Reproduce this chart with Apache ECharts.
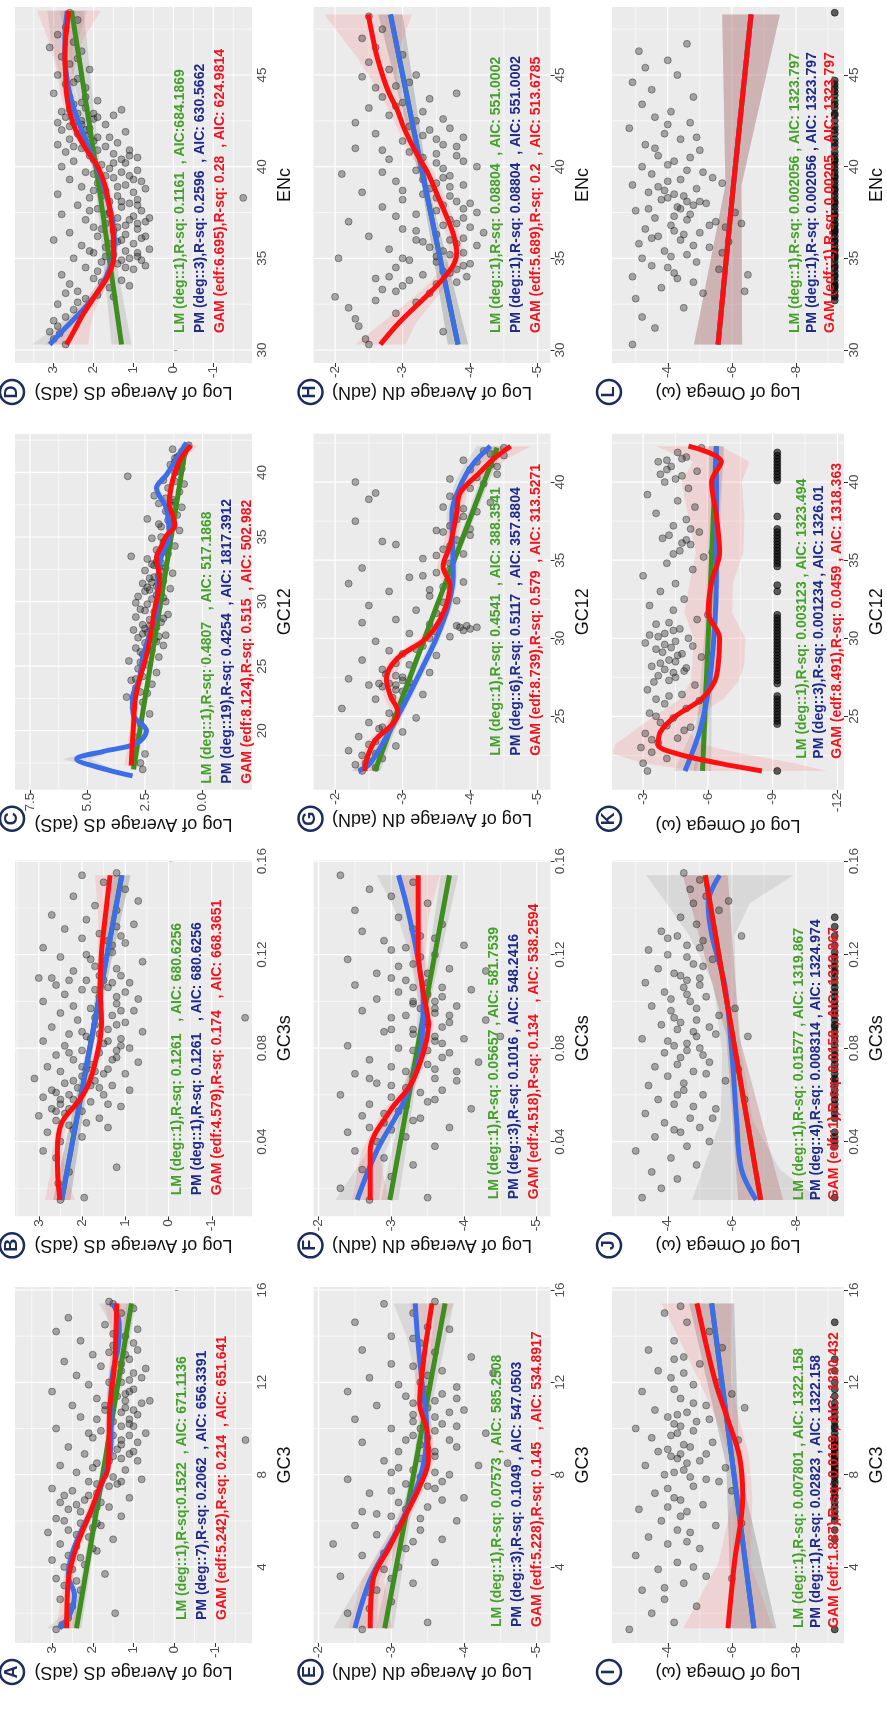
<!DOCTYPE html>
<html>
<head>
<meta charset="utf-8">
<script src="https://cdn.jsdelivr.net/npm/echarts@6/dist/echarts.min.js"></script>
<style>
html, body { margin: 0; padding: 0; background: #fff; }
#main { width: 887px; height: 1713px; }
</style>
</head>
<body>
<div id="main"></div>
<script>
// ---- axis ticks / ranges ----
var adsTicks = [-1, 0, 1, 2, 3], adsMinor = [-1.5, -0.5, 0.5, 1.5, 2.5, 3.5];
var cTicks = [0, 2.5, 5, 7.5], cMinor = [-1.25, 1.25, 3.75, 6.25];
var adnTicks = [-5, -4, -3, -2], adnMinor = [-4.5, -3.5, -2.5];
var omegaTicks = [-8, -6, -4], omegaMinor = [-9, -7, -5, -3];
var kTicks = [-12, -9, -6, -3], kMinor = [-10.5, -7.5, -4.5];
var encTicks = [30, 35, 40, 45], encMinor = [32.5, 37.5, 42.5, 47.5];
var gc12cTicks = [20, 25, 30, 35, 40], gc12cMinor = [17.5, 22.5, 27.5, 32.5, 37.5, 42.5];
var gc12Ticks = [25, 30, 35, 40], gc12Minor = [22.5, 27.5, 32.5, 37.5, 42.5];
var gc3sTicks = [0.04, 0.08, 0.12, 0.16], gc3sMinor = [0.02, 0.06, 0.10, 0.14];
var gc3Ticks = [4, 8, 12, 16], gc3Minor = [2, 6, 10, 14];

var encRange = [29.29, 48.71], gc12cRange = [15.43, 43.0], gc12Range = [20.3, 43.1];
var gc3sRange = [0.008, 0.1604], gc3Range = [0.71, 16.13];

var adsTitle = 'Log of Average dS (adS)', adnTitle = 'Log of Average dN (adN)', omegaTitle = 'Log of Omega (\u03c9)';
var omegaFloor = -9.21;

// ---- panel D : ENc vs adS ----
var dPts = [[30.3,2.7],[30.6,3.0],[31.0,3.1],[31.3,2.9],[31.6,3.0],[30.9,2.85],[31.8,2.7],[32.2,2.5],[32.5,2.9],[32.8,2.2],[33.0,1.9],[33.2,2.4],[33.4,1.6],[33.6,2.6],[33.8,1.3],[33.9,2.0],[32.9,1.5],[33.5,1.1],
 [34.1,2.8],[34.2,1.6],[34.4,1.0],[34.5,2.2],[34.6,0.7],[34.8,1.8],[34.9,1.3],[35.0,2.5],[35.1,0.9],[35.2,1.5],[35.3,2.0],[35.4,1.2],[35.5,0.6],[35.6,1.7],[35.7,2.3],[35.8,1.0],[35.9,1.4],[36.0,3.0],[36.1,0.8],[36.2,1.9],[35.0,1.1],[34.7,1.4],[35.3,0.9],[36.3,1.2],
 [36.4,2.6],[36.5,1.5],[36.6,0.9],[36.7,2.0],[36.8,1.2],[36.9,1.7],[37.0,0.7],[37.1,2.2],[37.2,1.4],[37.3,1.0],[37.4,2.8],[37.5,1.6],[37.6,0.8],[37.7,1.9],[37.8,1.3],[37.9,2.4],[38.0,1.1],[37.2,0.6],[36.6,1.8],[38.1,1.6],
 [38.2,0.9],[38.3,2.1],[38.4,1.4],[38.5,2.9],[38.6,1.0],[38.7,1.7],[38.8,0.7],[38.9,2.3],[39.0,1.2],[39.1,1.9],[39.2,0.8],[39.3,2.6],[39.4,1.5],[39.5,1.1],[39.6,2.0],[39.8,0.9],[39.9,1.6],[38.3,-1.75],[40.0,2.8],[39.7,1.3],
 [40.1,1.8],[40.2,1.2],[40.3,2.5],[40.5,0.9],[40.6,2.1],[40.7,1.5],[40.8,2.7],[40.9,1.1],[41.0,2.3],[41.1,1.7],[41.2,2.9],[41.3,1.4],[41.4,2.0],[41.5,2.6],[41.6,1.9],[41.8,2.4],[41.9,1.2],[42.0,2.8],[40.4,2.0],[41.7,2.2],
 [42.1,2.1],[42.2,2.6],[42.3,1.7],[42.4,2.9],[42.5,2.3],[42.6,2.0],[42.7,2.7],[42.8,1.5],[42.9,2.4],[43.0,2.8],[43.2,2.2],[43.4,2.5],[43.6,1.9],[43.8,2.6],[44.0,3.0],[43.1,1.3],[42.9,2.0],
 [44.3,2.2],[44.5,2.7],[44.8,2.4],[45.0,2.9],[45.3,2.1],[45.6,2.6],[46.0,2.8],[46.3,2.3],[46.8,2.5],[47.2,2.9],[47.6,2.7],[48.0,2.4],[48.4,2.6],[46.5,3.1],
 [34.3,1.9],[34.9,0.8],[35.4,2.1],[35.8,1.6],[36.2,0.7],[36.7,1.4],[37.1,1.1],[37.6,2.1],[37.9,0.9],[38.4,1.8],[38.9,1.4],[39.3,1.0],[39.7,2.2],[40.2,1.5],[40.6,1.1],[40.9,1.9],[41.3,2.1],[41.6,1.6],[42.0,2.2],[42.4,2.5],
 [42.7,1.9],[43.1,2.6],[43.5,2.3],[36.0,1.3],[36.9,0.9],[37.4,1.7],[38.1,1.3],[38.7,2.0],[39.5,1.7],[40.4,1.3],[35.1,1.7],[34.5,1.2],[33.7,1.8],[33.1,2.7],[32.6,2.4],[41.1,2.5],[42.3,2.3],[43.8,2.2],[44.6,2.5],[45.9,2.4]];
var dLm = [[30.3,1.3,0.25],[39,1.87,0.08],[48.5,2.55,0.3]];
var dPm = [[30.3,3.1,0.45],[31,2.8,0.3],[32,2.35,0.2],[33,1.95,0.15],[34,1.68,0.12],[35,1.52,0.1],[36,1.48,0.1],[37,1.52,0.1],[38,1.62,0.1],[39,1.76,0.1],[40,1.93,0.1],[41,2.12,0.1],[42,2.3,0.12],[43,2.47,0.13],[44,2.6,0.15],[45,2.68,0.18],[46,2.72,0.25],[47,2.72,0.35],[48.5,2.66,0.5]];
var dGam = [[30.3,2.68,0.55],[31,2.5,0.4],[32,2.25,0.25],[33,1.95,0.15],[34,1.65,0.12],[35,1.5,0.1],[36,1.5,0.1],[37,1.55,0.1],[38,1.62,0.1],[39,1.72,0.1],[40,1.9,0.12],[41,2.2,0.12],[42,2.45,0.12],[43,2.6,0.12],[44,2.68,0.15],[45,2.7,0.2],[46,2.72,0.3],[47,2.7,0.45],[48.5,2.62,0.8]];
var dTexts = ['LM (deg::1),R-sq: 0.1161  , AIC:684.1869', 'PM (deg::3),R-sq: 0.2596  , AIC: 630.5662', 'GAM (edf:6.695),R-sq: 0.28  , AIC: 624.9814'];

// ---- panel C : GC12 vs adS ----
var cPts = [[17.0,2.6],[17.5,2.7],[18.2,2.5],[19.5,2.9],[20.5,2.7],[21.3,2.3],[21.8,3.0],[22.2,2.6],[22.6,3.3],[22.9,2.4],[23.3,2.9],[23.6,2.2],[23.9,3.1],[24.2,2.6],[24.5,2.0],[24.8,2.8],[25.1,2.4],[25.4,3.2],[25.7,1.9],[25.9,2.6],
 [26.2,2.2],[26.4,2.9],[26.6,1.7],[26.8,2.5],[27.0,2.1],[27.2,2.8],[27.4,1.6],[27.6,2.4],[27.8,3.0],[28.0,2.0],[28.2,2.6],[28.4,1.8],[28.6,2.3],[28.8,2.9],[29.0,1.5],[29.2,2.1],[29.4,2.7],[29.6,1.9],[29.8,2.4],[30.0,1.6],
 [30.2,2.2],[30.4,2.8],[30.6,1.8],[30.8,2.5],[31.0,1.4],[31.2,2.0],[31.4,2.6],[31.6,1.7],[31.8,2.3],[32.0,1.9],[32.2,1.3],[32.4,2.5],[32.6,1.6],[32.8,2.1],[33.0,1.8],[33.3,2.4],[33.5,3.1],[33.7,1.5],[34.0,2.0],[34.3,1.2],
 [34.6,1.7],[34.9,2.2],[35.2,1.4],[35.5,1.0],[35.8,1.8],[36.1,1.3],[36.4,2.4],[36.7,1.1],[37.0,1.6],[37.3,0.9],[37.6,1.9],[37.9,1.3],[38.2,2.1],[38.5,1.0],[38.8,1.5],[39.1,0.8],[39.4,1.7],[39.7,3.25],[40.0,1.2],[40.3,0.9],
 [40.6,1.4],[40.9,1.0],[41.2,1.1],[41.5,0.8],[41.8,1.3],[42.1,0.6],[40.8,1.2],[41.0,0.9],[30.5,2.0],[29.9,2.9],[28.1,2.3],[27.3,1.9],[26.1,2.7],[31.5,2.2],[32.7,1.9],[34.8,1.5],[36.0,1.9],[37.7,1.2],[41.3,1.0],[40.5,1.1],
 [25.3,2.7],[26.3,2.4],[26.9,2.0],[27.5,2.6],[28.3,2.1],[28.7,1.7],[29.3,2.5],[29.7,2.0],[30.3,1.7],[30.9,2.3],[31.3,1.8],[31.9,2.1],[32.3,1.7],[32.9,2.2],[33.9,1.6],[35.0,1.8],[35.7,1.4],[36.3,1.5],[37.4,1.3],[38.0,1.6],
 [39.3,1.2],[40.1,1.0],[40.7,0.9],[41.1,1.2],[41.6,0.9],[24.0,2.9],[23.0,2.7],[27.9,2.5],[31.1,2.4],[33.1,2.0]];
var cLm = [[17.0,3.0,0.15],[29.5,1.86,0.04],[42.1,0.72,0.12]];
var cPm = [[16.5,3.04,0.1],[17.0,4.2,0.3],[17.8,5.47,0.6],[18.4,4.3,0.4],[19.0,2.87,0.2],[20.0,2.44,0.15],[21.2,3.0,0.12],[22.5,3.05,0.1],[24,2.75,0.08],[25.6,2.6,0.08],[27.5,2.3,0.08],[29.2,2.0,0.08],[31.5,1.95,0.08],[33.4,1.8,0.08],[35.1,1.45,0.08],[37.2,1.57,0.1],[38.8,2.0,0.12],[39.8,1.57,0.12],[41.0,1.15,0.15],[42.3,0.7,0.2]];
var cGam = [[17.3,3.1,0.3],[19,3.05,0.2],[20.4,3.0,0.15],[22,2.95,0.12],[23,2.87,0.1],[24.5,2.65,0.08],[25.8,2.44,0.08],[27.5,2.25,0.08],[29.2,2.1,0.08],[30.5,1.95,0.08],[31.5,1.87,0.1],[32.5,1.92,0.1],[33.4,2.0,0.1],[34.3,1.78,0.1],[35.1,1.57,0.1],[35.9,1.2,0.12],[36.7,1.3,0.12],[37.5,1.45,0.12],[39,1.35,0.12],[40.3,1.14,0.15],[41.2,0.9,0.2],[42.1,0.5,0.3]];
var cTexts = ['LM (deg::1),R-sq: 0.4807   , AIC: 517.1868', 'PM (deg::19),R-sq: 0.4254  , AIC: 1817.3912', 'GAM (edf:8.124),R-sq: 0.515  , AIC: 502.982'];

// ---- panel B : GC3s vs adS ----
var bPts = [[0.015,2.5],[0.016,1.95],[0.022,2.55],[0.027,2.3],[0.029,1.2],[0.033,2.6],[0.036,2.9],[0.040,2.5],[0.042,2.0],[0.044,2.8],[0.046,1.4],[0.047,2.3],[0.049,2.6],[0.050,1.6],[0.051,3.0],[0.052,2.4],[0.053,2.0],[0.054,2.7],[0.055,1.1],[0.056,2.5],
 [0.057,1.8],[0.058,2.2],[0.059,2.9],[0.060,1.5],[0.061,2.6],[0.062,0.9],[0.063,2.1],[0.064,1.3],[0.065,2.4],[0.066,1.7],[0.067,3.1],[0.068,2.0],[0.069,1.0],[0.070,2.5],[0.071,1.4],[0.072,2.8],[0.073,1.8],[0.074,0.7],[0.075,2.2],[0.076,1.2],
 [0.077,2.6],[0.078,1.6],[0.079,2.0],[0.080,0.9],[0.081,2.4],[0.082,1.5],[0.083,2.9],[0.084,1.1],[0.085,1.9],[0.086,2.3],[0.087,0.6],[0.088,1.4],[0.089,2.7],[0.090,1.7],[0.091,1.0],[0.092,2.1],[0.093,-1.77],[0.094,1.3],[0.095,2.5],[0.096,0.8],
 [0.097,1.8],[0.098,2.2],[0.099,1.2],[0.100,2.9],[0.101,0.7],[0.102,1.6],[0.103,2.4],[0.104,1.0],[0.105,2.0],[0.106,1.4],[0.107,2.6],[0.108,0.9],[0.109,1.9],[0.109,2.3],[0.109,1.5],[0.110,3.0],[0.110,2.7],[0.111,1.1],[0.113,2.2],[0.115,1.7],
 [0.117,0.6],[0.119,2.5],[0.121,1.3],[0.123,2.9],[0.125,1.0],[0.127,2.0],[0.129,1.6],[0.131,2.4],[0.133,0.8],[0.135,1.9],[0.137,2.7],[0.139,1.2],[0.141,1.7],[0.143,0.7],[0.145,2.2],[0.148,1.0],[0.151,1.5],[0.154,2.0],[0.155,1.2],[0.132,1.2],
 [0.118,1.8],[0.126,1.4],[0.086,1.6],[0.079,1.2],[0.071,1.9],[0.064,1.8],
 [0.045,2.2],[0.048,1.9],[0.053,2.6],[0.056,1.4],[0.060,2.3],[0.063,1.6],[0.066,2.2],[0.069,1.5],[0.072,2.0],[0.075,1.3],[0.078,2.3],[0.081,1.1],[0.084,1.8],[0.087,2.0],[0.090,1.2],[0.093,1.7],[0.096,1.1],[0.099,1.6],[0.102,1.2],[0.105,1.7],
 [0.108,1.3],[0.111,1.6],[0.114,1.2],[0.117,1.5],[0.120,1.9],[0.124,1.3],[0.128,1.1],[0.062,2.7],[0.058,2.5],[0.054,2.3],[0.070,1.7],[0.083,1.4]];
var bLm = [[0.015,2.47,0.2],[0.085,1.77,0.06],[0.154,1.08,0.2]];
var bPm = [[0.015,2.47,0.2],[0.085,1.77,0.06],[0.154,1.08,0.2]];
var bGam = [[0.015,2.51,0.35],[0.025,2.56,0.18],[0.036,2.57,0.12],[0.048,2.47,0.1],[0.058,2.05,0.1],[0.066,1.82,0.1],[0.080,1.62,0.08],[0.091,1.55,0.08],[0.107,1.58,0.08],[0.121,1.55,0.1],[0.135,1.47,0.15],[0.154,1.35,0.35]];
var bTexts = ['LM (deg::1),R-sq: 0.1261   , AIC: 680.6256', 'PM (deg::1),R-sq: 0.1261   , AIC: 680.6256', 'GAM (edf:4.579),R-sq: 0.174   , AIC: 668.3651'];

// ---- panel A : GC3 vs adS ----
var aPts = [[1.3,2.9],[1.5,2.75],[1.8,2.6],[2.0,1.45],[2.3,2.5],[2.6,2.8],[3.0,2.3],[3.2,2.7],[3.5,2.9],[3.7,1.7],[3.9,2.5],[4.1,2.2],[4.3,3.0],[4.5,2.6],[4.7,1.9],[4.9,2.4],[5.0,2.8],[5.2,1.5],[5.3,2.1],[5.5,3.1],
 [5.6,2.6],[5.8,1.8],[5.9,2.3],[6.1,2.9],[6.2,1.3],[6.3,2.0],[6.5,2.6],[6.6,1.6],[6.8,2.8],[6.9,2.2],[7.0,1.1],[7.2,1.9],[7.3,2.5],[7.4,3.0],[7.6,1.4],[7.7,2.1],[7.8,0.8],[8.0,1.7],[8.1,2.4],[8.2,1.2],
 [8.4,2.8],[8.5,1.9],[8.6,0.9],[8.8,1.5],[8.9,2.2],[9.0,1.0],[9.2,2.6],[9.3,1.6],[9.5,-1.75],[9.5,1.3],[9.6,2.0],[9.8,0.7],[9.9,1.8],[10.0,2.9],[10.2,1.1],[10.3,1.5],[10.5,2.3],[10.6,0.9],[10.8,1.7],[10.9,1.2],
 [11.0,2.5],[11.2,0.6],[11.3,1.9],[11.4,1.4],[11.6,3.0],[11.7,1.0],[11.9,2.1],[12.0,1.6],[12.2,0.8],[12.3,2.4],[12.5,1.3],[12.7,1.8],[12.9,2.7],[13.0,1.1],[13.2,2.0],[13.4,0.9],[13.6,1.5],[13.8,2.3],[14.0,1.2],[14.3,0.9],
 [14.5,1.7],[14.8,2.6],[15.0,1.3],[15.2,1.0],[15.4,1.5],[15.5,1.6],[14.2,2.9],[8.3,2.0],[9.1,1.4],[10.1,1.0],[10.7,1.3],[11.1,0.8],[11.5,1.2],[9.7,1.1],[8.7,1.3],[7.5,1.6],[6.7,2.4],[5.7,2.0],[12.1,1.1],[12.6,0.7],
 [13.3,1.6],[7.1,2.7],[6.0,2.7],[4.8,2.0],[9.4,0.9],[10.4,1.9],[11.8,1.5],
 [5.4,2.4],[5.9,1.9],[6.4,2.3],[6.8,1.8],[7.1,2.1],[7.6,1.9],[7.9,1.5],[8.2,1.7],[8.6,1.6],[8.9,1.1],[9.3,1.3],[9.7,1.5],[10.1,1.3],[10.4,1.1],[10.8,1.0],[11.2,1.2],[11.6,1.1],[12.0,1.3],[12.4,1.0],[12.8,1.3],
 [13.2,1.2],[13.7,1.0],[14.1,1.5],[4.4,2.3],[3.4,2.4],[4.0,2.7],[6.6,1.9],[7.7,1.3],[9.8,2.1],[11.0,1.7]];
var aLm = [[1.35,2.4,0.12],[8.4,1.72,0.05],[15.42,1.05,0.12]];
var aPm = [[1.35,2.82,0.3],[2.0,2.55,0.15],[2.8,2.45,0.12],[3.6,2.6,0.1],[4.5,2.52,0.1],[5.5,2.3,0.1],[6.5,2.02,0.1],[7.5,1.8,0.1],[8.5,1.62,0.1],[9.5,1.55,0.1],[10.5,1.55,0.1],[11.5,1.55,0.1],[12.5,1.5,0.1],[13.5,1.38,0.12],[14.5,1.35,0.2],[15.42,1.5,0.35]];
var aGam = [[1.35,2.64,0.25],[3.45,2.6,0.12],[4.89,2.4,0.1],[6.33,2.07,0.1],[7.49,1.82,0.1],[8.35,1.62,0.1],[9.65,1.6,0.1],[10.95,1.58,0.1],[12.83,1.46,0.12],[14.2,1.43,0.15],[15.42,1.41,0.3]];
var aTexts = ['LM (deg::1),R-sq:0.1522  , AIC: 671.1136', 'PM (deg::7),R-sq: 0.2062  , AIC: 656.3391', 'GAM (edf:5.242),R-sq: 0.214  , AIC: 651.641'];

// ---- panel H : ENc vs adN ----
var hPts = [[30.3,-2.5],[30.6,-2.45],[31.0,-3.6],[31.3,-2.35],[31.7,-2.3],[32.0,-2.9],[32.3,-2.2],[32.6,-3.2],[32.9,-2.0],[33.1,-3.4],[33.3,-2.7],[33.5,-3.0],[33.7,-3.8],[33.9,-2.6],[34.1,-3.3],[34.3,-3.6],[34.5,-2.9],[34.7,-4.0],[34.9,-3.1],[35.0,-2.05],
 [35.1,-3.5],[35.3,-3.9],[35.5,-2.8],[35.7,-4.1],[35.9,-3.3],[36.0,-3.7],[36.2,-2.5],[36.4,-4.2],[36.6,-3.0],[36.8,-3.6],[37.0,-2.2],[37.2,-3.9],[37.4,-3.2],[37.6,-3.5],[37.8,-2.7],[38.0,-4.0],[38.2,-3.0],[38.4,-3.7],[38.6,-2.4],[38.8,-3.4],
 [39.0,-3.9],[39.2,-2.9],[39.4,-3.6],[39.6,-2.1],[39.8,-3.2],[40.0,-4.1],[40.2,-3.5],[40.4,-2.8],[40.6,-3.8],[40.8,-3.1],[41.0,-2.3],[41.2,-3.6],[41.4,-3.0],[41.6,-3.9],[41.8,-2.6],[42.0,-3.4],[42.2,-3.1],[42.4,-2.3],[42.6,-3.6],[42.8,-2.8],
 [43.0,-3.3],[43.2,-2.5],[43.5,-3.0],[43.8,-2.7],[44.0,-3.8],[44.3,-2.6],[44.6,-3.1],[44.9,-2.4],[45.3,-2.8],[45.7,-2.5],[46.1,-3.0],[46.5,-2.6],[47.0,-2.4],[47.5,-2.7],[48.2,-2.5],[34.0,-3.95],[35.6,-3.4],[36.5,-3.2],[37.5,-4.1],[38.5,-3.3],
 [39.5,-3.7],[40.5,-3.3],[41.5,-3.5],[34.8,-3.5],[36.9,-3.8],[33.6,-3.5],[39.1,-3.5],[37.9,-3.6],[35.2,-3.7],[36.1,-3.9],[38.1,-3.8],[34.4,-3.8],
 [34.2,-3.7],[34.6,-3.9],[35.4,-3.6],[35.8,-3.8],[36.3,-3.5],[36.7,-4.0],[37.1,-3.7],[37.7,-3.9],[38.3,-3.5],[38.9,-3.7],[39.3,-3.3],[39.9,-3.6],[40.3,-3.9],[40.7,-3.5],[41.1,-3.8],[41.7,-3.3],[42.1,-3.7],[42.5,-3.2],[43.3,-2.9],[43.7,-3.4],
 [33.2,-2.9],[33.8,-3.1],[34.0,-2.8],[32.7,-2.6],[35.0,-3.0],[36.0,-3.2],[37.3,-2.9],[38.7,-3.0],[39.7,-2.7],[40.9,-2.7],[44.4,-2.9],[45.0,-3.2]];
var hLm = [[30.3,-3.82,0.15],[39,-3.33,0.05],[48.3,-2.82,0.18]];
var hPm = [[30.3,-3.82,0.15],[39,-3.33,0.05],[48.3,-2.82,0.18]];
var hGam = [[30.3,-2.67,0.37],[31.5,-2.95,0.25],[33.3,-3.45,0.15],[34.5,-3.73,0.12],[35.3,-3.8,0.1],[36.2,-3.76,0.1],[37.2,-3.66,0.1],[38.4,-3.52,0.1],[39.6,-3.38,0.1],[40.5,-3.24,0.1],[41.4,-3.11,0.1],[42.2,-3.01,0.1],[43.1,-2.92,0.12],[44,-2.8,0.15],[44.9,-2.71,0.2],[46,-2.62,0.3],[47,-2.56,0.45],[48.3,-2.49,0.65]];
var hTexts = ['LM (deg::1),R-sq: 0.08804  , AIC: 551.0002', 'PM (deg::1),R-sq: 0.08804  , AIC: 551.0002', 'GAM (edf:5.689),R-sq: 0.2  , AIC: 513.6785'];

// ---- panel G : GC12 vs adN ----
var gPts = [[21.5,-2.4],[21.7,-2.6],[21.9,-2.3],[22.1,-2.5],[22.3,-2.7],[22.5,-2.4],[22.8,-2.2],[23.1,-2.9],[23.4,-2.6],[23.7,-2.35],[24.0,-3.0],[24.3,-2.7],[24.6,-2.5],[24.9,-3.2],[25.2,-2.8],[25.5,-2.1],[25.8,-3.0],[26.1,-2.6],[26.4,-3.3],[26.7,-2.9],
 [27.0,-2.5],[27.1,-2.8],[27.2,-3.1],[27.4,-2.2],[27.6,-2.9],[27.8,-3.4],[28.0,-2.7],[28.3,-3.1],[28.6,-2.4],[28.9,-3.5],[29.2,-2.8],[29.5,-3.3],[29.8,-2.6],[30.1,-3.7],[30.3,-3.1],[30.5,-3.9],[30.7,-4.1],[30.9,-3.4],[31.2,-2.9],[31.5,-3.6],
 [31.8,-3.2],[32.1,-2.5],[32.4,-3.8],[32.7,-3.4],[33.0,-2.8],[33.3,-3.6],[33.6,-3.9],[33.9,-3.1],[34.2,-3.5],[34.5,-2.4],[34.8,-3.7],[35.1,-3.3],[35.4,-3.9],[35.7,-3.6],[36.0,-2.9],[36.3,-3.8],[36.6,-4.0],[36.9,-3.5],[37.2,-3.7],[37.5,-2.3],
 [37.8,-3.9],[38.1,-4.1],[38.4,-3.6],[38.7,-4.3],[39.0,-3.8],[39.3,-2.6],[39.6,-4.0],[39.9,-4.2],[40.2,-3.7],[40.5,-4.4],[40.8,-4.0],[41.1,-4.3],[41.4,-3.9],[41.7,-4.5],[42.0,-4.2],[40.0,-2.3],[38.9,-2.5],[36.2,-2.7],[33.5,-2.2],[31.0,-2.4],
 [26.9,-2.7],[27.3,-3.0],[29.0,-3.0],[30.8,-3.8],[34.0,-3.3],[37.0,-4.0],[41.3,-4.1],[30.6,-4.0],[27.0,-2.9],[26.8,-3.1],
 [22.0,-2.45],[22.6,-2.6],[23.2,-2.5],[24.2,-2.65],[25.0,-2.9],[26.2,-2.85],[26.6,-3.0],[27.1,-2.65],[27.5,-3.0],[27.7,-2.75],[28.4,-2.9],[29.3,-3.2],[30.0,-3.4],[30.4,-3.5],[30.8,-3.95],[30.7,-3.85],[31.6,-3.5],[32.3,-3.6],[33.1,-3.4],[34.4,-3.7],
 [35.3,-3.5],[35.9,-3.7],[36.8,-3.6],[37.6,-3.8],[38.3,-3.9],[39.1,-3.7],[40.3,-4.1],[41.0,-4.4],[41.8,-4.3],[42.2,-4.5]];
var gLm = [[21.5,-2.59,0.08],[31.9,-3.49,0.03],[42.2,-4.4,0.08]];
var gPm = [[21.5,-2.35,0.12],[22,-2.52,0.08],[24,-2.8,0.06],[26,-3.05,0.06],[28,-3.28,0.06],[30,-3.5,0.06],[32,-3.67,0.06],[34,-3.75,0.06],[36,-3.74,0.07],[38,-3.73,0.08],[40,-3.88,0.1],[41.2,-4.05,0.12],[42.3,-4.3,0.2]];
var gGam = [[21.5,-2.44,0.15],[22.3,-2.47,0.1],[23.5,-2.6,0.1],[24.5,-2.85,0.1],[25.3,-2.93,0.1],[26.3,-2.82,0.1],[27.4,-2.76,0.1],[28.7,-2.92,0.1],[30.0,-3.35,0.1],[31.6,-3.6,0.1],[33.4,-3.7,0.1],[34.6,-3.6,0.1],[35.9,-3.7,0.1],[38.0,-3.8,0.1],[39.3,-3.85,0.1],[40.6,-4.14,0.15],[41.5,-4.35,0.2],[42.3,-4.6,0.3]];
var gTexts = ['LM (deg::1),R-sq: 0.4541  , AIC: 388.3541', 'PM (deg::6),R-sq: 0.5117  , AIC: 357.8804', 'GAM (edf:8.739),R-sq: 0.579  , AIC: 313.5271'];

// ---- panel F : GC3s vs adN ----
var fPts = [[0.015,-2.7],[0.016,-3.5],[0.020,-2.3],[0.025,-3.0],[0.028,-2.6],[0.030,-3.3],[0.033,-2.9],[0.036,-2.5],[0.038,-3.6],[0.040,-2.8],[0.042,-3.2],[0.044,-2.4],[0.046,-3.8],[0.048,-2.9],[0.050,-3.4],[0.051,-2.6],[0.053,-3.1],[0.054,-4.1],[0.056,-2.7],[0.057,-3.5],
 [0.059,-3.0],[0.060,-2.3],[0.062,-3.7],[0.063,-3.2],[0.065,-2.8],[0.066,-3.9],[0.068,-3.3],[0.069,-2.5],[0.071,-3.6],[0.072,-3.0],[0.074,-4.2],[0.075,-2.7],[0.077,-3.4],[0.078,-3.8],[0.080,-3.1],[0.081,-2.4],[0.083,-3.6],[0.084,-4.0],[0.086,-3.3],[0.087,-2.9],
 [0.089,-3.7],[0.090,-3.5],[0.092,-4.3],[0.093,-3.0],[0.095,-3.6],[0.096,-2.6],[0.098,-3.9],[0.099,-3.3],[0.101,-2.8],[0.102,-3.7],[0.104,-3.1],[0.105,-4.1],[0.107,-2.5],[0.108,-3.5],[0.110,-3.0],[0.112,-2.8],[0.114,-3.8],[0.116,-3.3],[0.118,-2.4],[0.120,-3.6],
 [0.122,-3.0],[0.124,-4.0],[0.126,-2.9],[0.128,-3.4],[0.130,-2.6],[0.133,-3.7],[0.136,-3.1],[0.139,-2.5],[0.142,-3.5],[0.145,-3.0],[0.148,-2.7],[0.151,-3.3],[0.154,-2.3],[0.085,-4.5],[0.113,-4.3],[0.070,-3.9],[0.094,-3.2],[0.079,-3.5],[0.088,-3.0],[0.097,-3.4],
 [0.106,-3.3],[0.082,-3.7],[0.091,-3.8],[0.100,-3.6],
 [0.045,-3.0],[0.049,-3.3],[0.055,-3.2],[0.058,-3.6],[0.061,-3.4],[0.064,-3.0],[0.067,-3.6],[0.070,-3.2],[0.073,-3.5],[0.076,-3.7],[0.079,-3.3],[0.082,-3.4],[0.085,-3.6],[0.088,-3.3],[0.091,-3.5],[0.094,-3.8],[0.097,-3.6],[0.100,-3.3],[0.103,-3.5],[0.106,-3.7],
 [0.109,-3.2],[0.112,-3.5],[0.115,-3.1],[0.119,-3.4],[0.123,-3.2],[0.127,-3.6],[0.131,-3.3],[0.046,-2.7],[0.052,-2.9],[0.067,-2.7]];
var fLm = [[0.015,-2.98,0.12],[0.085,-3.39,0.04],[0.154,-3.8,0.12]];
var fPm = [[0.015,-2.53,0.3],[0.036,-2.8,0.12],[0.057,-3.17,0.08],[0.078,-3.4,0.07],[0.100,-3.44,0.07],[0.121,-3.35,0.1],[0.140,-3.22,0.18],[0.154,-3.1,0.3]];
var fGam = [[0.015,-2.71,0.25],[0.036,-2.71,0.12],[0.053,-2.98,0.1],[0.064,-3.26,0.08],[0.078,-3.44,0.08],[0.090,-3.51,0.08],[0.104,-3.44,0.08],[0.121,-3.37,0.1],[0.137,-3.37,0.15],[0.154,-3.37,0.3]];
var fTexts = ['LM (deg::1),R-sq: 0.05657 , AIC: 581.7539', 'PM (deg::3),R-sq: 0.1016 , AIC: 548.2416', 'GAM (edf:4.518),R-sq: 0.134   , AIC: 538.2594'];

// ---- panel E : GC3 vs adN ----
var ePts = [[1.3,-2.6],[1.6,-3.5],[2.0,-2.4],[2.5,-3.0],[2.9,-2.7],[3.3,-3.3],[3.6,-2.3],[3.9,-2.9],[4.2,-3.6],[4.5,-2.6],[4.8,-3.2],[5.0,-2.2],[5.2,-3.7],[5.4,-2.8],[5.6,-3.4],[5.8,-2.5],[6.0,-3.9],[6.2,-3.0],[6.4,-2.6],[6.6,-3.5],
 [6.8,-3.1],[7.0,-4.0],[7.2,-2.7],[7.4,-3.6],[7.6,-3.2],[7.8,-2.4],[8.0,-3.8],[8.2,-3.3],[8.4,-4.2],[8.6,-2.9],[8.8,-3.6],[9.0,-3.1],[9.2,-3.9],[9.4,-2.6],[9.6,-3.5],[9.8,-4.3],[10.0,-3.0],[10.2,-3.7],[10.4,-2.5],[10.6,-3.3],
 [10.8,-4.0],[11.0,-2.8],[11.2,-3.6],[11.4,-3.2],[11.6,-2.4],[11.8,-3.9],[12.0,-3.4],[12.2,-2.7],[12.5,-3.7],[12.8,-3.0],[13.1,-4.1],[13.4,-2.6],[13.7,-3.4],[14.0,-3.0],[14.3,-3.8],[14.6,-2.5],[15.0,-3.3],[15.4,-2.9],[15.5,-3.6],[8.5,-4.6],
 [9.7,-3.3],[10.9,-3.5],[7.9,-3.4],[9.1,-3.5],[10.1,-3.9],[11.3,-3.9],[6.9,-3.7],[9.9,-3.6],[12.4,-4.4],[8.1,-3.0],[9.3,-3.4],[10.5,-3.6],[11.7,-3.5],[7.7,-3.7],
 [4.0,-3.1],[4.6,-2.9],[5.1,-3.3],[5.7,-3.1],[6.1,-3.4],[6.5,-3.2],[7.1,-3.3],[7.5,-3.5],[8.1,-3.6],[8.3,-3.1],[8.7,-3.4],[9.0,-3.6],[9.5,-3.8],[9.5,-3.2],[10.0,-3.4],[10.3,-3.3],[10.7,-3.8],[11.1,-3.3],[11.5,-3.7],[11.9,-3.1],
 [12.3,-3.5],[12.7,-3.3],[13.3,-3.6],[13.9,-3.3],[14.4,-3.5],[3.0,-2.8],[3.5,-3.0],[2.2,-2.7],[6.3,-2.8],[7.3,-3.0]];
var eLm = [[1.35,-2.91,0.12],[8.4,-3.33,0.04],[15.42,-3.74,0.12]];
var ePm = [[1.35,-2.5,0.3],[3.45,-2.71,0.12],[5.6,-3.08,0.08],[7.8,-3.39,0.07],[9.9,-3.49,0.07],[12.1,-3.42,0.08],[14,-3.36,0.15],[15.42,-3.33,0.3]];
var eGam = [[1.35,-2.71,0.3],[3.45,-2.75,0.15],[4.89,-2.98,0.1],[6.33,-3.21,0.08],[7.49,-3.39,0.08],[8.64,-3.51,0.08],[9.94,-3.49,0.08],[11.09,-3.39,0.08],[12.83,-3.44,0.1],[14.2,-3.5,0.15],[15.42,-3.56,0.3]];
var eTexts = ['LM (deg::1),R-sq: 0.07573 , AIC: 585.2508', 'PM (deg::3),R-sq: 0.1049 , AIC: 547.0503', 'GAM (edf:5.228),R-sq: 0.145   , AIC: 534.8917'];

// ---- panel L : ENc vs omega ----
var lPts = [[30.3,-2.9],[31.2,-3.6],[31.8,-3.2],[32.3,-4.5],[32.8,-3.0],[33.1,-5.1],[33.4,-3.8],[33.7,-4.8],[34.0,-2.9],[34.2,-4.2],[34.4,-5.6],[34.6,-3.5],[34.8,-4.9],[35.0,-3.2],[35.2,-4.6],[35.4,-3.9],[35.6,-5.3],[35.8,-3.1],[36.0,-4.4],[36.2,-3.7],
 [36.4,-5.0],[36.6,-3.3],[36.8,-4.1],[37.0,-5.5],[37.2,-3.6],[37.4,-4.7],[37.6,-3.0],[37.8,-4.3],[38.0,-5.2],[38.2,-3.8],[38.4,-4.5],[38.6,-3.4],[38.8,-4.9],[39.0,-2.9],[39.2,-4.0],[39.4,-5.4],[39.6,-3.5],[39.8,-4.6],[40.0,-3.2],[40.3,-4.2],
 [40.6,-3.7],[40.9,-5.0],[41.2,-3.3],[41.5,-4.4],[41.8,-3.9],[42.1,-2.8],[42.4,-4.7],[42.7,-3.6],[43.0,-4.1],[43.4,-3.2],[43.8,-4.8],[44.2,-3.5],[44.6,-2.9],[45.0,-4.3],[45.4,-3.3],[45.8,-4.0],[46.3,-3.1],[46.7,-4.6],[37.5,-6.1],[36.9,-6.3],
 [33.2,-6.4],[35.9,-5.9],[38.3,-4.0],[37.3,-4.2],[36.3,-4.5],[38.7,-3.9],[37.9,-4.8],[36.7,-5.8],[34.1,-6.5],[39.1,-5.7],[37.7,-4.4],[38.1,-4.6],
 [35.1,-4.1],[35.7,-4.8],[36.1,-3.5],[36.5,-4.2],[37.1,-4.6],[37.7,-3.4],[38.1,-5.0],[38.5,-4.2],[38.9,-3.7],[39.3,-4.4],[39.7,-5.1],[40.1,-4.0],[40.5,-4.7],[34.5,-4.0],[33.9,-4.3],[41.0,-3.6],[41.6,-4.9],[42.3,-4.0],[35.3,-5.7],[36.8,-5.3]];
var lFloor = [32.7,32.9,33.0,33.2,33.4,33.5,33.6,33.8,34.0,34.1,34.3,34.5,34.6,34.8,35.0,35.1,35.2,35.4,35.5,35.7,35.9,36.0,36.2,36.4,36.5,36.6,36.8,36.9,37.1,37.3,37.4,37.6,37.8,38.0,38.1,38.3,38.5,38.7,38.8,39.0,
 39.2,39.4,39.5,39.7,39.9,40.1,40.3,40.4,40.6,40.8,41.1,41.3,41.5,41.8,42.0,42.2,42.5,42.8,42.9,43.2,43.4,43.6,43.9,44.1,44.3,44.5,44.7,48.4];
var lLm = [[30.3,-5.57,0.75],[39,-6.05,0.25],[48.3,-6.6,0.9]];
var lPm = [[30.3,-5.57,0.75],[39,-6.05,0.25],[48.3,-6.6,0.9]];
var lGam = [[30.3,-5.57,0.75],[39,-6.05,0.25],[48.3,-6.6,0.9]];
var lTexts = ['LM (deg::1),R-sq: 0.002056 , AIC: 1323.797', 'PM (deg::1),R-sq: 0.002056 , AIC: 1323.797', 'GAM (edf::1),R-sq: 0.00205 , AIC: 1323.797'];

// ---- panel K : GC12 vs omega ----
var kPts = [[21.5,-3.2],[22.0,-3.0],[22.3,-4.1],[22.7,-3.4],[23.0,-2.9],[23.3,-3.7],[23.6,-4.6],[23.9,-3.1],[24.3,-5.2],[24.6,-3.8],[24.9,-4.4],[25.2,-3.3],[25.5,-5.0],[25.8,-4.0],[26.1,-3.6],[26.4,-4.8],[26.7,-3.2],[27.0,-5.4],[27.3,-4.2],[27.6,-3.7],
 [27.9,-4.9],[28.2,-3.4],[28.5,-4.5],[28.8,-5.7],[29.1,-3.9],[29.4,-4.3],[29.7,-3.1],[30.0,-5.1],[30.3,-4.0],[30.6,-4.7],[30.9,-3.6],[31.2,-5.5],[31.5,-6.0],[31.8,-4.4],[32.1,-3.3],[32.5,-4.9],[33.0,-3.8],[33.5,-4.5],[34.0,-3.0],[34.4,-5.3],
 [34.8,-4.1],[35.2,-5.8],[35.6,-4.7],[36.0,-5.2],[36.4,-3.9],[36.8,-5.6],[37.2,-4.4],[37.6,-5.0],[38.0,-3.6],[38.4,-5.4],[38.8,-4.6],[39.2,-3.2],[39.6,-5.1],[40.0,-4.0],[40.4,-4.8],[40.7,-5.5],[41.0,-4.3],[41.3,-3.7],[41.6,-5.0],[41.9,-4.6],
 [42.2,-5.7],[28.0,-4.0],[29.0,-4.8],[30.1,-3.7],[29.5,-5.3],[27.5,-4.5],[26.0,-5.6],[24.1,-4.9],[31.0,-4.2],[35.5,-6.2],[36.3,-5.0],[40.5,-3.8],[41.4,-4.1],[28.6,-4.2],[29.8,-4.5],
 [23.5,-3.4],[24.4,-4.1],[25.0,-3.6],[26.3,-4.2],[27.2,-3.5],[27.8,-4.4],[28.4,-3.8],[28.9,-4.6],[29.6,-4.0],[30.5,-4.4],[30.2,-3.3],[29.3,-3.6],[28.1,-5.0],[35.4,-4.4],[36.1,-4.8],[36.6,-4.2],[37.0,-5.2],[40.2,-4.5],[40.8,-4.1],[41.5,-4.8]];
var kFloor = [21.5,24.5,24.7,24.9,25.1,25.3,25.5,25.7,25.9,26.1,26.3,27.1,27.3,27.5,27.7,27.9,28.1,28.3,28.5,28.7,28.9,29.1,29.3,29.5,29.7,29.9,30.1,30.3,30.5,30.7,30.9,31.1,31.3,31.5,33.0,33.4,
 34.6,34.8,35.0,35.2,35.4,35.6,35.8,36.0,36.2,36.4,36.6,36.8,37.0,37.8,40.1,40.3,40.5,40.7,40.9,41.1,41.3,41.5,41.7,41.9];
var kLm = [[21.5,-5.75,0.4],[31.9,-6.07,0.15],[42.3,-6.39,0.35]];
var kPm = [[21.5,-4.94,0.5],[24.5,-5.71,0.3],[28.2,-6.16,0.2],[33.7,-6.39,0.15],[38,-6.4,0.2],[42.3,-6.39,0.35]];
var kGam = [[21.5,-8.5,3.0],[22.0,-6.5,3.5],[22.6,-4.6,3.0],[23.2,-3.7,2.0],[24.0,-3.8,1.3],[25.0,-4.5,1.0],[26.1,-5.7,1.0],[27.2,-6.3,1.1],[28.2,-6.47,1.2],[30.0,-6.54,1.2],[31.65,-6.01,1.1],[33.6,-6.17,1.0],[35.5,-6.54,1.1],[37.85,-6.39,1.3],[40.0,-6.17,1.4],[41.3,-6.62,1.3],[42.3,-5.1,1.5]];
var kTexts = ['LM (deg::1),R-sq: 0.003123 , AIC: 1323.494', 'PM (deg::3),R-sq: 0.001234 , AIC: 1326.01', 'GAM (edf:8.491),R-sq: 0.0459 , AIC: 1318.363'];

// ---- panel J : GC3s vs omega ----
var jPts = [[0.016,-3.2],[0.020,-3.8],[0.024,-4.3],[0.027,-3.5],[0.030,-4.9],[0.033,-4.1],[0.036,-3.0],[0.038,-4.6],[0.040,-5.3],[0.042,-3.6],[0.044,-4.4],[0.046,-5.0],[0.048,-3.9],[0.050,-4.7],[0.052,-3.3],[0.054,-5.5],[0.056,-4.2],[0.058,-3.7],[0.060,-5.1],[0.062,-4.5],
 [0.064,-3.4],[0.066,-5.8],[0.068,-4.0],[0.070,-4.8],[0.072,-3.6],[0.074,-5.3],[0.076,-4.4],[0.078,-3.9],[0.080,-5.0],[0.082,-4.6],[0.084,-3.2],[0.086,-5.5],[0.088,-4.3],[0.090,-3.8],[0.092,-4.9],[0.094,-5.6],[0.096,-4.1],[0.098,-3.5],[0.100,-4.7],[0.102,-5.2],
 [0.104,-3.9],[0.106,-4.5],[0.108,-3.3],[0.110,-5.0],[0.112,-4.2],[0.114,-3.7],[0.116,-4.8],[0.118,-5.4],[0.120,-4.0],[0.122,-3.4],[0.124,-4.6],[0.126,-5.1],[0.128,-4.3],[0.130,-3.8],[0.133,-4.9],[0.136,-4.4],[0.139,-5.6],[0.142,-4.8],[0.145,-5.2],[0.148,-4.7],
 [0.152,-5.0],[0.155,-4.5],[0.058,-6.4],[0.071,-6.2],[0.085,-6.5],[0.097,-6.1],[0.128,-6.3],[0.143,-5.9],[0.079,-4.6],[0.091,-4.4],[0.101,-4.1],[0.083,-4.0],[0.087,-4.8],[0.109,-4.6],
 [0.065,-4.5],[0.069,-5.2],[0.073,-4.3],[0.077,-5.1],[0.081,-4.2],[0.085,-4.9],[0.089,-5.3],[0.093,-4.2],[0.097,-4.9],[0.103,-4.6],[0.107,-5.0],[0.111,-4.4],[0.115,-5.1],[0.119,-4.6],[0.123,-5.0],[0.127,-4.0],[0.060,-4.3],[0.055,-4.8],[0.050,-5.4],[0.045,-4.2]];
var jFloor = [0.016,0.038,0.040,0.042,0.044,0.050,0.052,0.054,0.056,0.058,0.060,0.062,0.064,0.066,0.067,0.069,0.071,0.073,0.075,0.077,0.079,0.081,0.083,0.085,0.087,0.089,0.090,0.092,0.094,0.096,
 0.098,0.100,0.102,0.104,0.106,0.108,0.110,0.112,0.113,0.115,0.117,0.119,0.121,0.124,0.128,0.132,0.136];
var jLm = [[0.015,-6.9,0.7],[0.085,-6.03,0.2],[0.154,-5.17,0.7]];
var jPm = [[0.015,-6.76,2.0],[0.028,-6.3,1.2],[0.049,-6.15,0.5],[0.078,-6.0,0.3],[0.107,-5.78,0.35],[0.128,-5.38,0.7],[0.142,-5.26,1.3],[0.154,-5.62,2.3]];
var jGam = [[0.015,-6.9,0.7],[0.085,-6.03,0.2],[0.154,-5.17,0.7]];
var jTexts = ['LM (deg::1),R-sq: 0.01577 , AIC: 1319.867', 'PM (deg::4),R-sq: 0.008314 , AIC: 1324.974', 'GAM (edf::1),R-sq: 0.0158 , AIC: 1319.867'];

// ---- panel I : GC3 vs omega ----
var iPts = [[1.3,-2.8],[1.6,-4.2],[2.0,-3.5],[2.3,-4.9],[2.6,-3.9],[3.0,-3.2],[3.3,-4.5],[3.6,-5.2],[3.9,-3.7],[4.2,-4.3],[4.5,-3.0],[4.8,-5.0],[5.0,-4.0],[5.3,-3.4],[5.5,-4.7],[5.8,-5.5],[6.0,-3.8],[6.2,-4.4],[6.5,-3.1],[6.7,-5.1],
 [7.0,-4.2],[7.2,-3.6],[7.5,-4.8],[7.7,-5.6],[8.0,-3.9],[8.2,-4.5],[8.4,-3.3],[8.6,-5.0],[8.8,-4.1],[9.0,-3.7],[9.2,-4.7],[9.4,-5.4],[9.6,-3.5],[9.8,-4.3],[10.0,-3.0],[10.3,-4.9],[10.5,-4.0],[10.8,-3.6],[11.0,-5.2],[11.3,-4.4],
 [11.6,-3.2],[11.9,-4.8],[12.2,-4.1],[12.5,-3.7],[12.8,-5.0],[13.1,-4.5],[13.4,-3.4],[13.8,-4.2],[14.2,-5.3],[14.6,-4.6],[15.0,-3.9],[15.3,-4.4],[7.9,-4.7],[8.9,-4.4],[9.9,-4.8],[10.7,-4.6],[6.6,-4.0],[12.0,-5.6],[3.5,-6.0],[5.9,-6.3],
 [7.3,-6.0],[9.5,-6.2],[11.5,-6.0],[13.5,-5.7],[8.3,-5.8],[10.9,-6.4],[8.7,-4.3],[9.3,-4.5],[10.2,-4.2],
 [6.4,-4.6],[6.9,-4.4],[7.4,-4.0],[7.8,-5.2],[8.1,-4.2],[8.5,-4.6],[8.9,-5.2],[9.1,-4.0],[9.7,-4.1],[10.1,-4.4],[10.4,-5.3],[10.6,-4.3],[11.1,-4.8],[11.7,-4.2],[12.4,-4.5],[5.6,-4.3],[5.1,-4.6],[4.0,-4.8],[13.0,-4.2],[3.1,-3.9]];
var iFloor = [1.3,5.2,5.6,6.0,6.2,6.4,6.6,6.8,7.0,7.1,7.3,7.4,7.6,7.7,7.9,8.0,8.1,8.2,8.3,8.4,8.5,8.6,8.7,8.8,8.9,9.0,9.1,9.2,9.3,9.4,9.5,9.6,9.8,10.0,10.1,10.3,10.5,10.7,10.9,11.1,11.4,11.7,12.0,12.5,13.0,14.6];
var iLm = [[1.35,-6.69,0.7],[8.4,-6.03,0.2],[15.42,-5.37,0.7]];
var iPm = [[1.35,-6.69,0.7],[8.4,-6.03,0.2],[15.42,-5.37,0.7]];
var iGam = [[1.35,-5.88,1.4],[4.17,-6.08,0.5],[7.05,-6.34,0.3],[8.78,-6.24,0.3],[10.37,-5.88,0.35],[12.1,-5.47,0.5],[15.42,-4.91,1.1]];
var iTexts = ['LM (deg::1),R-sq: 0.007801 , AIC: 1322.158', 'PM (deg::1),R-sq: 0.02823 , AIC: 1322.158', 'GAM (edf:1.887),R-sq: 0.0169 , AIC: 1320.432'];

// ---- layout ----
var colLeft = [15, 313.5, 612], rowTop = [7, 433.7, 860.3, 1287];
var plotW = 237, plotH = 356;
var textGap = [20, 20, 17.5];
var green = '#3E8E1F', blue = '#3D6EE8', red = '#FF1010';
var textColors = ['#46A02C', '#1F2A8A', '#F0141E'];
var navy = '#1C2C5C';

var panels = [
  {key:'D', col:0, row:0, pts:dPts, lm:dLm, pm:dPm, gam:dGam, v:[-1.97,3.97], vMajor:adsTicks, vMinor:adsMinor, vDec:0, x:encRange, xMajor:encTicks, xMinor:encMinor, xDec:0, yName:adsTitle, xName:'ENc', texts:dTexts, tdx:165, tdy:30},
  {key:'H', col:1, row:0, pts:hPts, lm:hLm, pm:hPm, gam:hGam, v:[-5.19,-1.68], vMajor:adnTicks, vMinor:adnMinor, vDec:0, x:encRange, xMajor:encTicks, xMinor:encMinor, xDec:0, yName:adnTitle, xName:'ENc', texts:hTexts, tdx:183, tdy:30},
  {key:'L', col:2, row:0, pts:lPts, floor:lFloor, lm:lLm, pm:lPm, gam:lGam, v:[-9.5,-2.26], vMajor:omegaTicks, vMinor:omegaMinor, vDec:0, x:encRange, xMajor:encTicks, xMinor:encMinor, xDec:0, yName:omegaTitle, xName:'ENc', texts:lTexts, tdx:183, tdy:30},
  {key:'C', col:0, row:1, pts:cPts, lm:cLm, pm:cPm, gam:cGam, v:[-2.15,8.15], vMajor:cTicks, vMinor:cMinor, vDec:1, x:gc12cRange, xMajor:gc12cTicks, xMinor:gc12cMinor, xDec:0, yName:adsTitle, xName:'GC12', texts:cTexts, tdx:192, tdy:6},
  {key:'G', col:1, row:1, pts:gPts, lm:gLm, pm:gPm, gam:gGam, v:[-5.19,-1.68], vMajor:adnTicks, vMinor:adnMinor, vDec:0, x:gc12Range, xMajor:gc12Ticks, xMinor:gc12Minor, xDec:0, yName:adnTitle, xName:'GC12', texts:gTexts, tdx:183, tdy:34},
  {key:'K', col:2, row:1, pts:kPts, floor:kFloor, lm:kLm, pm:kPm, gam:kGam, v:[-12.3,-1.56], vMajor:kTicks, vMinor:kMinor, vDec:0, x:gc12Range, xMajor:gc12Ticks, xMinor:gc12Minor, xDec:0, yName:omegaTitle, xName:'GC12', texts:kTexts, tdx:190, tdy:31},
  {key:'B', col:0, row:2, pts:bPts, lm:bLm, pm:bPm, gam:bGam, v:[-1.93,3.55], vMajor:adsTicks, vMinor:adsMinor, vDec:0, x:gc3sRange, xMajor:gc3sTicks, xMinor:gc3sMinor, xDec:2, yName:adsTitle, xName:'GC3s', texts:bTexts, tdx:162, tdy:21},
  {key:'F', col:1, row:2, pts:fPts, lm:fLm, pm:fPm, gam:fGam, v:[-5.19,-1.93], vMajor:adnTicks, vMinor:adnMinor, vDec:0, x:gc3sRange, xMajor:gc3sTicks, xMinor:gc3sMinor, xDec:2, yName:adnTitle, xName:'GC3s', texts:fTexts, tdx:181, tdy:17},
  {key:'J', col:2, row:2, pts:jPts, floor:jFloor, lm:jLm, pm:jPm, gam:jGam, v:[-9.5,-2.26], vMajor:omegaTicks, vMinor:omegaMinor, vDec:0, x:gc3sRange, xMajor:gc3sTicks, xMinor:gc3sMinor, xDec:2, yName:omegaTitle, xName:'GC3s', texts:jTexts, tdx:187, tdy:16},
  {key:'A', col:0, row:3, pts:aPts, lm:aLm, pm:aPm, gam:aGam, v:[-1.91,3.91], vMajor:adsTicks, vMinor:adsMinor, vDec:0, x:gc3Range, xMajor:gc3Ticks, xMinor:gc3Minor, xDec:0, yName:adsTitle, xName:'GC3', texts:aTexts, tdx:167, tdy:23},
  {key:'E', col:1, row:3, pts:ePts, lm:eLm, pm:ePm, gam:eGam, v:[-5.19,-1.93], vMajor:adnTicks, vMinor:adnMinor, vDec:0, x:gc3Range, xMajor:gc3Ticks, xMinor:gc3Minor, xDec:0, yName:adnTitle, xName:'GC3', texts:eTexts, tdx:184, tdy:16},
  {key:'I', col:2, row:3, pts:iPts, floor:iFloor, lm:iLm, pm:iPm, gam:iGam, v:[-9.5,-2.26], vMajor:omegaTicks, vMinor:omegaMinor, vDec:0, x:gc3Range, xMajor:gc3Ticks, xMinor:gc3Minor, xDec:0, yName:omegaTitle, xName:'GC3', texts:iTexts, tdx:187, tdy:15}
];

function inRange(list, r) { return list.filter(function (v) { return v >= Math.min(r[0], r[1]) && v <= Math.max(r[0], r[1]); }); }

function gridRender(p) {
  return function (params, api) {
    var cs = params.coordSys, kids = [];
    function vl(v, w) {
      var x = api.coord([v, p.x[0]])[0];
      kids.push({type: 'line', shape: {x1: x, y1: cs.y, x2: x, y2: cs.y + cs.height}, style: {stroke: '#fff', lineWidth: w}});
    }
    function hl(v, w) {
      var y = api.coord([p.v[0], v])[1];
      kids.push({type: 'line', shape: {x1: cs.x, y1: y, x2: cs.x + cs.width, y2: y}, style: {stroke: '#fff', lineWidth: w}});
    }
    inRange(p.vMinor, p.v).forEach(function (v) { vl(v, 0.6); });
    inRange(p.vMajor, p.v).forEach(function (v) { vl(v, 1.2); });
    inRange(p.xMinor, p.x).forEach(function (v) { hl(v, 0.6); });
    inRange(p.xMajor, p.x).forEach(function (v) { hl(v, 1.2); });
    return {type: 'group', children: kids};
  };
}

function bandRender(p) {
  return function (params, api) {
    function poly(c, fill) {
      var pts = [];
      c.forEach(function (q) { pts.push(api.coord([q[1] + q[2], q[0]])); });
      for (var i = c.length - 1; i >= 0; i--) pts.push(api.coord([c[i][1] - c[i][2], c[i][0]]));
      return {type: 'polygon', shape: {points: pts}, style: {fill: fill}};
    }
    return {type: 'group', children: [
      poly(p.lm, 'rgba(120,120,120,0.20)'),
      poly(p.pm, 'rgba(120,120,120,0.16)'),
      poly(p.gam, 'rgba(255,70,70,0.14)')
    ]};
  };
}

function flip(c) { return c.map(function (q) { return [q[1], q[0]]; }); }

var grids = [], xAxes = [], yAxes = [], series = [], graphics = [];
panels.forEach(function (p, i) {
  var L = colLeft[p.col], T = rowTop[p.row], B = T + plotH;
  grids.push({left: L, top: T, width: plotW, height: plotH, show: true, backgroundColor: '#EBEBEB', borderWidth: 0, containLabel: false});
  xAxes.push({
    gridIndex: i, type: 'value', min: p.v[0], max: p.v[1], inverse: true, position: 'bottom',
    axisLine: {show: false},
    axisTick: {show: true, customValues: p.vMajor, length: 4, lineStyle: {color: '#333', width: 1}},
    axisLabel: {customValues: p.vMajor, rotate: 90, fontSize: 13.5, color: '#4D4D4D', margin: 3,
      formatter: (function (d) { return function (v) { return Number(v).toFixed(d); }; })(p.vDec)},
    splitLine: {show: false},
    name: p.yName, nameLocation: 'middle', nameGap: 20, nameRotate: 180,
    nameTextStyle: {fontSize: 18, color: '#111'}
  });
  yAxes.push({
    gridIndex: i, type: 'value', min: p.x[0], max: p.x[1], position: 'right',
    axisLine: {show: false},
    axisTick: {show: true, customValues: p.xMajor, length: 4, lineStyle: {color: '#333', width: 1}},
    axisLabel: {customValues: p.xMajor, rotate: 90, fontSize: 13.5, color: '#4D4D4D', margin: 3,
      formatter: (function (d) { return function (v) { return Number(v).toFixed(d); }; })(p.xDec)},
    splitLine: {show: false},
    name: p.xName, nameLocation: 'middle', nameGap: 24, nameRotate: 90,
    nameTextStyle: {fontSize: 18, color: '#111'}
  });
  series.push({type: 'custom', xAxisIndex: i, yAxisIndex: i, z: 1, silent: true, renderItem: gridRender(p), data: [[p.v[0], p.x[0]]]});
  series.push({type: 'custom', xAxisIndex: i, yAxisIndex: i, z: 2, silent: true, clip: true, renderItem: bandRender(p), data: [[p.v[0], p.x[0]]]});
  series.push({type: 'scatter', xAxisIndex: i, yAxisIndex: i, z: 3, symbolSize: 7, data: flip(p.pts),
    itemStyle: {color: 'rgba(45,45,45,0.48)', borderColor: 'rgba(0,0,0,0.6)', borderWidth: 0.7}});
  if (p.floor) {
    series.push({type: 'scatter', xAxisIndex: i, yAxisIndex: i, z: 3, symbolSize: 7,
      data: p.floor.map(function (x) { return [omegaFloor, x]; }),
      itemStyle: {color: 'rgba(10,10,10,0.8)', borderColor: 'rgba(0,0,0,0.9)', borderWidth: 0.7}});
  }
  [[p.lm, green], [p.pm, blue], [p.gam, red]].forEach(function (c, k) {
    series.push({type: 'line', xAxisIndex: i, yAxisIndex: i, z: 4 + k, data: flip(c[0]), showSymbol: false, smooth: k === 0 ? false : 0.35,
      lineStyle: {color: c[1], width: 5}, silent: true});
  });
  p.texts.forEach(function (t, k) {
    graphics.push({type: 'text', x: L + p.tdx + k * textGap[p.col], y: B - p.tdy, rotation: Math.PI / 2, z: 50,
      style: {text: t, fill: textColors[k], font: 'bold 14px "Liberation Sans", Arial, sans-serif',
        textAlign: 'left', align: 'left', textVerticalAlign: 'middle', verticalAlign: 'middle'}});
  });
  var cx = L - 3, cy = B + 29;
  graphics.push({type: 'circle', shape: {cx: cx, cy: cy, r: 12}, z: 50, style: {fill: '#fff', stroke: navy, lineWidth: 2.5}});
  graphics.push({type: 'text', x: cx, y: cy, rotation: Math.PI / 2, z: 51,
    style: {text: p.key, fill: navy, font: 'bold 18px "Liberation Sans", Arial, sans-serif',
      textAlign: 'center', align: 'center', textVerticalAlign: 'middle', verticalAlign: 'middle'}});
});

var chart = echarts.init(document.getElementById('main'));
chart.setOption({
  animation: false,
  backgroundColor: '#fff',
  textStyle: {fontFamily: '"Liberation Sans", Arial, sans-serif'},
  grid: grids, xAxis: xAxes, yAxis: yAxes, series: series, graphic: graphics
});
</script>
</body>
</html>
